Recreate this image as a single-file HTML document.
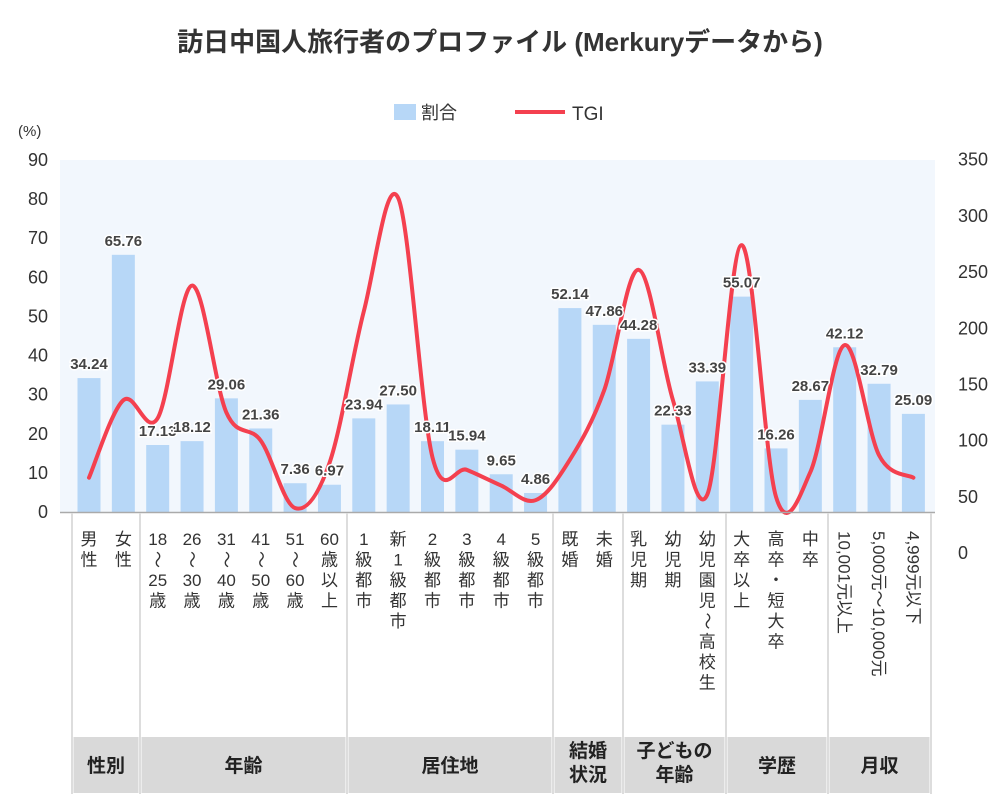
<!DOCTYPE html>
<html><head><meta charset="utf-8"><style>
body{margin:0;background:#fff;}
svg{display:block;font-family:"Liberation Sans","Noto Sans CJK JP",sans-serif;}
</style></head><body>
<svg id="s" width="1000" height="800" xmlns="http://www.w3.org/2000/svg"></svg>
<script>
const s=document.getElementById('s');let h='';
const yL=v=>512-v*3.911, yR=v=>553-v*1.1237;
h+='<text x="500" y="51" text-anchor="middle" font-size="26" font-weight="bold" fill="#333">訪日中国人旅行者のプロファイル (Merkuryデータから)</text>';
h+='<rect x="394" y="104" width="22" height="16" fill="#b7d7f7"/><text x="421" y="119" font-size="18" fill="#333">割合</text>';
h+='<line x1="515" y1="112" x2="565" y2="112" stroke="#f4404f" stroke-width="4"/><text x="572" y="120" font-size="19" fill="#333">TGI</text>';
h+='<text x="18" y="136" font-size="15" fill="#333">(%)</text>';
h+='<rect x="60" y="160" width="875" height="352" fill="#f2f7fd"/>';
for(let i=0;i<=9;i++){h+=`<text x="48" y="${yL(i*10)+6}" text-anchor="end" font-size="18" fill="#333">${i*10}</text>`;}
for(let i=0;i<=7;i++){h+=`<text x="958" y="${yR(i*50)+6}" font-size="18" fill="#333">${i*50}</text>`;}
const bars=[34.24,65.76,17.13,18.12,29.06,21.36,7.36,6.97,23.94,27.50,18.11,15.94,9.65,4.86,52.14,47.86,44.28,22.33,33.39,55.07,16.26,28.67,42.12,32.79,25.09];
const tgi=[67,136,120,238,125,100,40,80,215,316,85,74,60,47,83,145,252,136,52,274,50,72,185,87,67];
const cx=i=>89+i*34.35;
bars.forEach((v,i)=>{h+=`<rect x="${cx(i)-11.5}" y="${yL(v)}" width="23" height="${512-yL(v)}" fill="#b7d7f7"/>`;});
const P=tgi.map((v,i)=>[cx(i),yR(v)]);let d=`M${P[0][0]},${P[0][1]}`;
for(let i=0;i<P.length-1;i++){const p0=P[i-1]||P[i],p1=P[i],p2=P[i+1],p3=P[i+2]||P[i+1];
d+=` C${p1[0]+(p2[0]-p0[0])/6},${p1[1]+(p2[1]-p0[1])/6} ${p2[0]-(p3[0]-p1[0])/6},${p2[1]-(p3[1]-p1[1])/6} ${p2[0]},${p2[1]}`;}
h+=`<path d="${d}" fill="none" stroke="#f4404f" stroke-width="4" stroke-linejoin="round" stroke-linecap="round"/>`;
bars.forEach((v,i)=>{h+=`<text x="${cx(i)}" y="${yL(v)-9}" text-anchor="middle" font-size="15" font-weight="bold" fill="#444" stroke="#fff" stroke-width="3" paint-order="stroke">${v.toFixed(2)}</text>`;});
h+='<line x1="60" y1="512.5" x2="935" y2="512.5" stroke="#aaa" stroke-width="1.5"/>';
const seps=[72,140,347,553,623,726,828,931];
seps.forEach(x=>{h+=`<line x1="${x}" y1="513" x2="${x}" y2="794" stroke="#ddd" stroke-width="2"/>`;});
const groups=[["性別"],["年齢"],["居住地"],["結婚","状況"],["子どもの","年齢"],["学歴"],["月収"]];
for(let g=0;g<7;g++){const a=seps[g]+1.5,b=seps[g+1]-1.5;h+=`<rect x="${a}" y="737" width="${b-a}" height="56" fill="#d9d9d9"/>`;
const m=(a+b)/2,L=groups[g];L.forEach((t,k)=>{const y=L.length==1?772:757+k*24;h+=`<text x="${m}" y="${y}" text-anchor="middle" font-size="19" font-weight="bold" fill="#222">${t}</text>`;});}
const labs=[["男","性"],["女","性"],["18","〜","25","歳"],["26","〜","30","歳"],["31","〜","40","歳"],["41","〜","50","歳"],["51","〜","60","歳"],["60","歳","以","上"],
["1","級","都","市"],["新","1","級","都","市"],["2","級","都","市"],["3","級","都","市"],["4","級","都","市"],["5","級","都","市"],
["既","婚"],["未","婚"],["乳","児","期"],["幼","児","期"],["幼","児","園","児","〜","高","校","生"],["大","卒","以","上"],["高","卒","・","短","大","卒"],["中","卒"]];
labs.forEach((L,i)=>{L.forEach((t,k)=>{const tr=t=="〜"?` transform="rotate(90 ${cx(i)} ${545+k*20.5-6})"`:'';h+=`<text x="${cx(i)}" y="${545+k*20.5}" text-anchor="middle" font-size="17" fill="#333"${tr}>${t}</text>`;});});
["10,001元以上","5,000元〜10,000元","4,999元以下"].forEach((t,j)=>{const x=cx(22+j)-6,y=531;h+=`<text x="${x}" y="${y}" font-size="17" fill="#333" transform="rotate(90 ${x} ${y})">${t}</text>`;});
s.innerHTML=h;
</script>
</body></html>
